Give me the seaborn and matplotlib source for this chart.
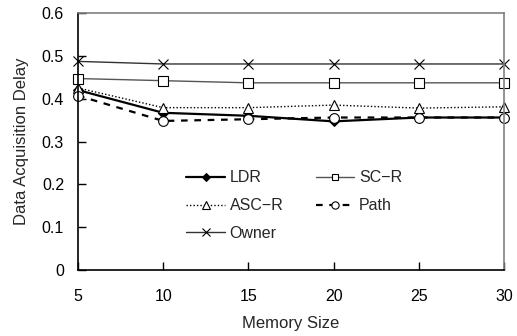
import matplotlib
matplotlib.use("Agg")
import matplotlib.pyplot as plt
import seaborn as sns
import pandas as pd

memory = [5, 10, 15, 20, 25, 30]
ldr = [0.420, 0.367, 0.360, 0.347, 0.356, 0.356]
sc_r = [0.447, 0.442, 0.437, 0.437, 0.437, 0.437]
asc_r = [0.425, 0.379, 0.379, 0.385, 0.378, 0.381]
path = [0.407, 0.348, 0.352, 0.356, 0.356, 0.356]
owner = [0.487, 0.481, 0.481, 0.481, 0.481, 0.481]

sns.set_theme(style="white")
plt.rcParams['font.family'] = ['Liberation Sans', 'DejaVu Sans']

fig = plt.figure(figsize=(5.17, 3.36), dpi=100)
ax = fig.add_axes([78/517, 66/336, (504-78)/517, (270-13)/336])

series = [
    ("LDR", ldr, dict(color="black", lw=1.6, ls="-", marker="D", ms=5.5, mfc="black", mec="black")),
    ("ASC\u2212R", asc_r, dict(color="black", lw=1.0, ls=(0, (1, 1.5)), marker="^", ms=7, mfc="white", mec="black", mew=0.8)),
    ("Owner", owner, dict(color="#333333", lw=1.0, ls="-", marker="x", ms=7, mec="black", mew=0.8)),
    ("SC\u2212R", sc_r, dict(color="#555555", lw=1.0, ls="-", marker="s", ms=6.5, mfc="white", mec="black", mew=0.8)),
    ("Path", path, dict(color="black", lw=1.6, ls=(0, (3, 3)), marker="o", ms=7, mfc="white", mec="black", mew=0.8)),
]

for name, vals, kw in series:
    df = pd.DataFrame({"Memory Size": memory, "Delay": vals})
    sns.lineplot(data=df, x="Memory Size", y="Delay", ax=ax, label=name, clip_on=False, **kw)

ax.set_xlim(5, 30)
ax.set_ylim(0, 0.6)
ax.set_xticks(memory)
ax.set_yticks([0, 0.1, 0.2, 0.3, 0.4, 0.5, 0.6])
ax.set_yticklabels(["0", "0.1", "0.2", "0.3", "0.4", "0.5", "0.6"])
ax.set_xlabel("Memory Size", fontsize=12, labelpad=8)
ax.set_ylabel("Data Acquisition Delay", fontsize=12, labelpad=9)
ax.tick_params(axis="both", direction="in", length=6, width=1, labelsize=11.5,
               left=True, bottom=True, colors="black")
ax.tick_params(axis="x", pad=14)
ax.tick_params(axis="y", pad=10)
for s in ["left", "bottom"]:
    ax.spines[s].set_color("black")
    ax.spines[s].set_linewidth(1.2)
for s in ["top", "right"]:
    ax.spines[s].set_color("#808080")
    ax.spines[s].set_linewidth(1.2)

ax.legend(ncol=2, frameon=False, loc="upper left", bbox_to_anchor=(172/517, 1 - 156/336),
          bbox_transform=fig.transFigure, fontsize=11.5, handlelength=2.4, markerscale=0.75,
          columnspacing=2.05, labelspacing=0.8, handletextpad=0.3)

fig.savefig("out.png", dpi=100)
